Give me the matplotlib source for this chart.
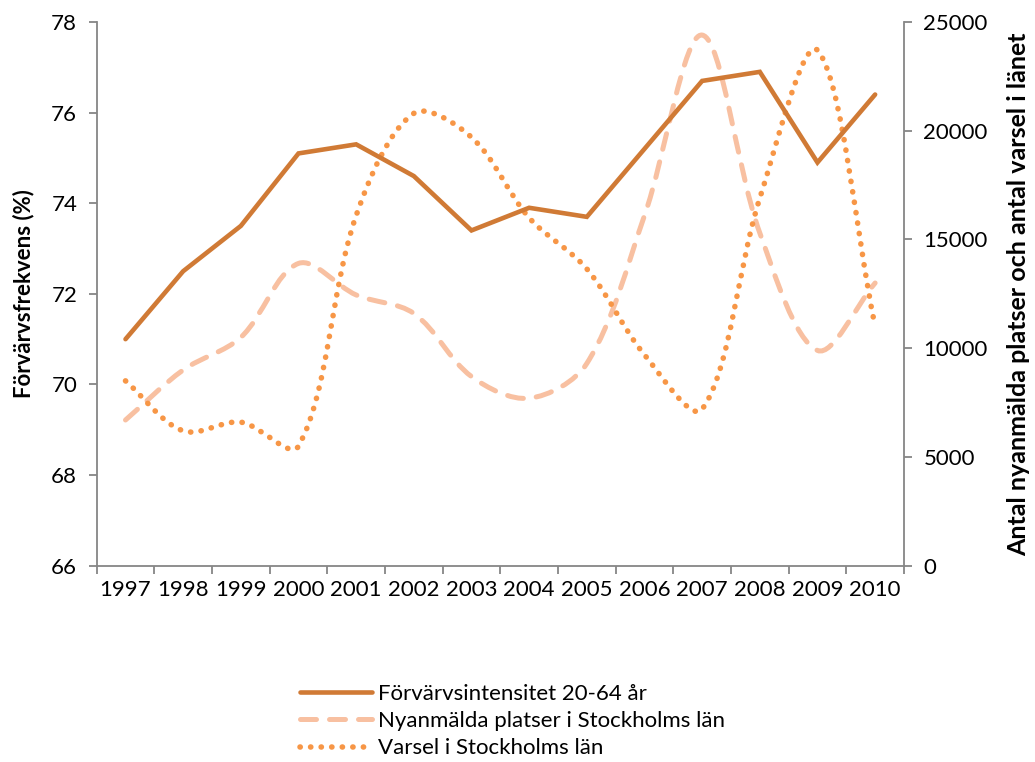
import numpy as np
import matplotlib
matplotlib.use('Agg')
import matplotlib.pyplot as plt
from matplotlib.path import Path
from matplotlib.patches import PathPatch
from matplotlib.lines import Line2D

plt.rcParams['font.family'] = ['Lato', 'DejaVu Sans']

years = ['1997', '1998', '1999', '2000', '2001', '2002', '2003',
         '2004', '2005', '2006', '2007', '2008', '2009', '2010']
intensitet = [71.0, 72.5, 73.5, 75.1, 75.3, 74.6, 73.4,
              73.9, 73.7, 75.2, 76.7, 76.9, 74.9, 76.4]
platser = [6700, 9000, 10500, 13900, 12450, 11600, 8700,
           7700, 9300, 16100, 24400, 15300, 9900, 13000]
varsel = [8500, 6200, 6600, 5500, 16100, 20800, 19700,
          16000, 13650, 9700, 7200, 16900, 23700, 11000]

labels = ['Förvärvsintensitet 20-64 år',
          'Nyanmälda platser i Stockholms län',
          'Varsel i Stockholms län']

c_solid = '#D07A35'
c_dash = '#F8C0A1'
c_dot = '#F79646'
axis_grey = '#868686'

dash_style = (0, (3.2, 2.6))
dot_style = (0, (0.05, 1.85))


def smooth_path(a, x, y):
    """smoothed line (excel-like) built in display space, returned in data space"""
    pts = a.transData.transform(np.column_stack([x, y]))
    n = len(pts)
    verts = [pts[0]]
    codes = [Path.MOVETO]
    for i in range(n - 1):
        p0 = pts[i - 1] if i > 0 else pts[i]
        p1 = pts[i]
        p2 = pts[i + 1]
        p3 = pts[i + 2] if i + 2 < n else pts[i + 1]
        d01 = np.hypot(*(p1 - p0))
        d12 = np.hypot(*(p2 - p1))
        d23 = np.hypot(*(p3 - p2))
        w1 = d12 / (d01 + d12) if d01 + d12 > 0 else 0.5
        w2 = d12 / (d12 + d23) if d12 + d23 > 0 else 0.5
        c1 = p1 + (p2 - p0) * w1 / 3.0
        c2 = p2 - (p3 - p1) * w2 / 3.0
        verts += [c1, c2, p2]
        codes += [Path.CURVE4] * 3
    verts = a.transData.inverted().transform(np.array(verts))
    return Path(verts, codes)


fig = plt.figure(figsize=(10.35, 7.62), dpi=100)
ax = fig.add_axes([0.0934, 0.2576, 0.78, 0.7135])
ax2 = ax.twinx()

x = np.arange(len(years))

ax.set_xlim(-0.5, len(years) - 0.5)
ax.set_ylim(66, 78)
ax2.set_ylim(0, 25000)

ax.plot(x, intensitet, color=c_solid, lw=3.3, solid_capstyle='round',
        solid_joinstyle='miter', zorder=5)

p1 = PathPatch(smooth_path(ax2, x, platser), fill=False, edgecolor=c_dash,
               lw=3.6, linestyle=dash_style, capstyle='round')
p2 = PathPatch(smooth_path(ax2, x, varsel), fill=False, edgecolor=c_dot,
               lw=4.0, linestyle=dot_style, capstyle='round')
ax2.add_patch(p1)
ax2.add_patch(p2)
ax.set_zorder(ax2.get_zorder() + 1)
ax.patch.set_visible(False)

ax.set_yticks(np.arange(66, 79, 2))
ax2.set_yticks(np.arange(0, 25001, 5000))

ax.set_xticks(np.arange(-0.5, len(years), 1.0))
ax.set_xticklabels([])
ax.set_xticks(x, minor=True)
ax.set_xticklabels(years, minor=True)
ax.tick_params(axis='x', which='minor', length=0, pad=10, labelsize=16)
ax.tick_params(axis='x', which='major', length=6, width=1.3, color=axis_grey)
ax.tick_params(axis='y', length=6, width=1.3, color=axis_grey, labelsize=16, pad=8)
ax2.tick_params(axis='y', length=6, width=1.3, color=axis_grey, labelsize=16, pad=8)

for a in (ax, ax2):
    a.spines['top'].set_visible(False)
    for s in ('left', 'right', 'bottom'):
        a.spines[s].set_color(axis_grey)
        a.spines[s].set_linewidth(1.3)
ax.spines['right'].set_visible(False)
ax2.spines['left'].set_visible(False)
ax2.spines['bottom'].set_visible(False)

ax.set_ylabel('Förvärvsfrekvens (%)', fontsize=16, fontweight='bold', labelpad=12)
ax2.set_ylabel('Antal nyanmälda platser och antal varsel i länet', fontsize=18,
               fontweight='bold', labelpad=14)

handles = [
    Line2D([], [], color=c_solid, lw=3.3, solid_capstyle='round'),
    Line2D([], [], color=c_dash, lw=3.6, linestyle=dash_style,
           dash_capstyle='round'),
    Line2D([], [], color=c_dot, lw=4.0, linestyle=dot_style,
           dash_capstyle='round'),
]
fig.legend(handles, labels, loc='center left', bbox_to_anchor=(300 / 1035, 1 - 721 / 762),
           frameon=False, fontsize=16, handlelength=3.25, handletextpad=0.27,
           labelspacing=0.33, borderpad=0, borderaxespad=0)

fig.savefig('out.png', dpi=100)
